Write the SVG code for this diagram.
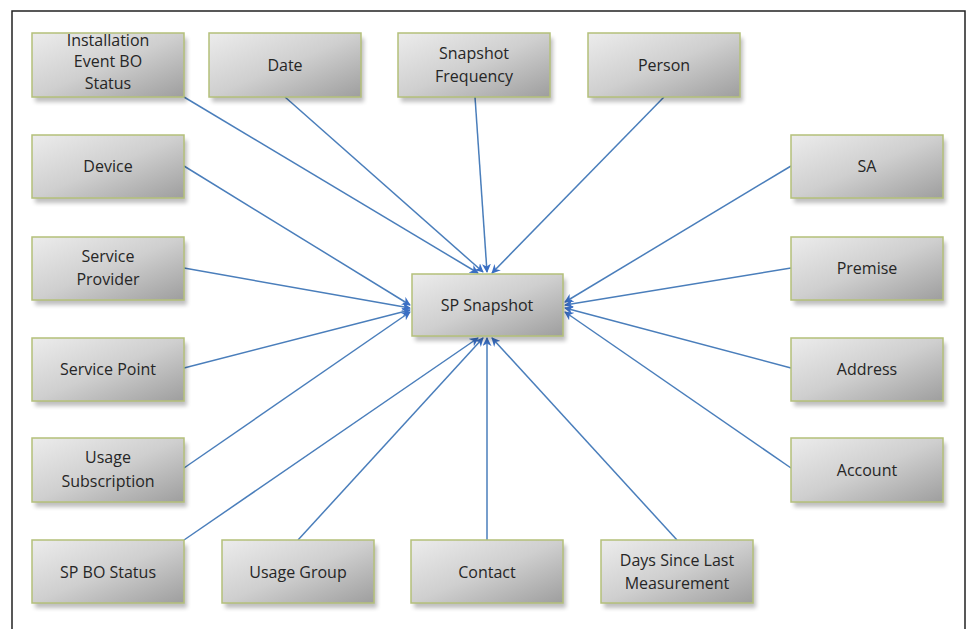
<svg xmlns="http://www.w3.org/2000/svg" width="971" height="629" viewBox="0 0 971 629">
<style>
.box{fill:url(#g);stroke:#b4c07a;stroke-width:1.5}
.sh{fill:#000;opacity:0.25;filter:url(#blur)}
.t{font-family:"Open Sans","Liberation Sans",sans-serif;font-size:16px;fill:#262626;text-anchor:middle}
.c{stroke:#4a7ebb;stroke-width:1.5;fill:none;marker-end:url(#arr)}
</style>
<defs>
<linearGradient id="g" x1="0" y1="0" x2="1" y2="1">
<stop offset="0" stop-color="#ececec"/>
<stop offset="0.5" stop-color="#cfcfcf"/>
<stop offset="1" stop-color="#9e9e9e"/>
</linearGradient>
<filter id="blur" x="-10%" y="-20%" width="120%" height="150%"><feGaussianBlur stdDeviation="2"/></filter>
<marker id="arr" viewBox="0 0 10 10" refX="9" refY="5" markerWidth="9" markerHeight="9" orient="auto" markerUnits="userSpaceOnUse">
<path d="M0,0 L10,5 L0,10 L3,5 Z" fill="#3a6fc4"/>
</marker>
</defs>
<rect x="0" y="0" width="971" height="629" fill="#fff"/>
<path d="M12,640 L12,11 L965,11 L965,640" fill="none" stroke="#222" stroke-width="1.5"/>

<g id="connectors">
<line class="c" x1="184" y1="97" x2="478" y2="273"/>
<line class="c" x1="285" y1="97" x2="483" y2="272"/>
<line class="c" x1="475" y1="97" x2="487" y2="272"/>
<line class="c" x1="664" y1="97" x2="492" y2="273"/>
<line class="c" x1="184" y1="166" x2="410" y2="305"/>
<line class="c" x1="184" y1="268" x2="410" y2="308"/>
<line class="c" x1="184" y1="368" x2="410" y2="310"/>
<line class="c" x1="184" y1="468" x2="410" y2="312"/>
<line class="c" x1="184" y1="540" x2="478" y2="338"/>
<line class="c" x1="298" y1="540" x2="483" y2="338"/>
<line class="c" x1="487" y1="540" x2="487" y2="338"/>
<line class="c" x1="677" y1="540" x2="492" y2="338"/>
<line class="c" x1="791" y1="166" x2="565" y2="302"/>
<line class="c" x1="791" y1="268" x2="565" y2="305"/>
<line class="c" x1="791" y1="368" x2="565" y2="308"/>
<line class="c" x1="791" y1="468" x2="565" y2="312"/>
</g>

<g id="n-installation"><rect class="sh" x="35" y="38" width="152" height="64"/><rect class="box" x="32" y="33" width="152" height="64"/>
<text class="t" x="108" y="46">Installation</text><text class="t" x="108" y="67">Event BO</text><text class="t" x="108" y="89">Status</text></g>
<g id="n-date"><rect class="sh" x="212" y="38" width="152" height="64"/><rect class="box" x="209" y="33" width="152" height="64"/>
<text class="t" x="285" y="71">Date</text></g>
<g id="n-snapfreq"><rect class="sh" x="401" y="38" width="152" height="64"/><rect class="box" x="398" y="33" width="152" height="64"/>
<text class="t" x="474" y="59">Snapshot</text><text class="t" x="474" y="82">Frequency</text></g>
<g id="n-person"><rect class="sh" x="591" y="38" width="152" height="64"/><rect class="box" x="588" y="33" width="152" height="64"/>
<text class="t" x="664" y="71">Person</text></g>

<g id="n-device"><rect class="sh" x="35" y="140" width="152" height="63"/><rect class="box" x="32" y="135" width="152" height="63"/>
<text class="t" x="108" y="172">Device</text></g>
<g id="n-serviceprovider"><rect class="sh" x="35" y="242" width="152" height="63"/><rect class="box" x="32" y="237" width="152" height="63"/>
<text class="t" x="108" y="262">Service</text><text class="t" x="108" y="285">Provider</text></g>
<g id="n-servicepoint"><rect class="sh" x="35" y="343" width="152" height="63"/><rect class="box" x="32" y="338" width="152" height="63"/>
<text class="t" x="108" y="375">Service Point</text></g>
<g id="n-usagesub"><rect class="sh" x="35" y="443" width="152" height="64"/><rect class="box" x="32" y="438" width="152" height="64"/>
<text class="t" x="108" y="463">Usage</text><text class="t" x="108" y="487">Subscription</text></g>

<g id="n-spbostatus"><rect class="sh" x="35" y="545" width="152" height="63"/><rect class="box" x="32" y="540" width="152" height="63"/>
<text class="t" x="108" y="578">SP BO Status</text></g>
<g id="n-usagegroup"><rect class="sh" x="225" y="545" width="152" height="63"/><rect class="box" x="222" y="540" width="152" height="63"/>
<text class="t" x="298" y="578">Usage Group</text></g>
<g id="n-contact"><rect class="sh" x="414" y="545" width="152" height="63"/><rect class="box" x="411" y="540" width="152" height="63"/>
<text class="t" x="487" y="578">Contact</text></g>
<g id="n-days"><rect class="sh" x="604" y="545" width="152" height="63"/><rect class="box" x="601" y="540" width="152" height="63"/>
<text class="t" x="677" y="566">Days Since Last</text><text class="t" x="677" y="589">Measurement</text></g>

<g id="n-sa"><rect class="sh" x="794" y="140" width="152" height="63"/><rect class="box" x="791" y="135" width="152" height="63"/>
<text class="t" x="867" y="172">SA</text></g>
<g id="n-premise"><rect class="sh" x="794" y="242" width="152" height="63"/><rect class="box" x="791" y="237" width="152" height="63"/>
<text class="t" x="867" y="274">Premise</text></g>
<g id="n-address"><rect class="sh" x="794" y="343" width="152" height="63"/><rect class="box" x="791" y="338" width="152" height="63"/>
<text class="t" x="867" y="375">Address</text></g>
<g id="n-account"><rect class="sh" x="794" y="443" width="152" height="64"/><rect class="box" x="791" y="438" width="152" height="64"/>
<text class="t" x="867" y="476">Account</text></g>

<g id="n-spsnapshot"><rect class="sh" x="415" y="279" width="151" height="62"/><rect class="box" x="412" y="274" width="151" height="62"/>
<text class="t" x="487" y="311">SP Snapshot</text></g>
</svg>
